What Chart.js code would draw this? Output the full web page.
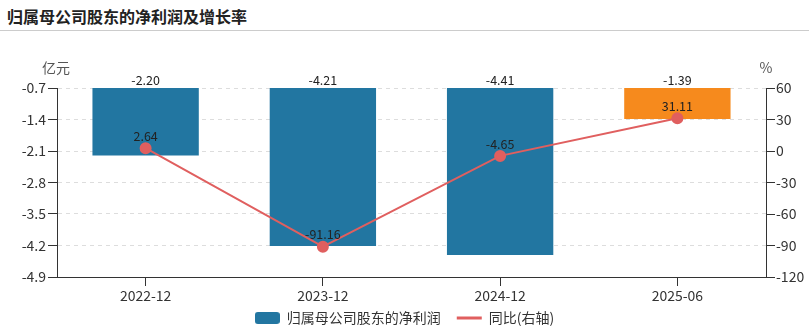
<!DOCTYPE html>
<html><head><meta charset="utf-8">
<script src="https://cdn.jsdelivr.net/npm/chart.js@4"></script>
<style>
html,body{margin:0;padding:0;background:#fff;}
#wrap{position:relative;width:809px;height:329px;overflow:hidden;}
#title{position:absolute;left:7px;top:5px;font:bold 16px "Noto Sans CJK SC",sans-serif;line-height:22px;color:#222;}
#sep{position:absolute;left:0;top:30px;width:809px;height:1px;background:#ccc;}
#cv{position:absolute;left:0;top:0;}
</style></head>
<body>
<div id="wrap">
<div id="title">归属母公司股东的净利润及增长率</div>
<div id="sep"></div>
<canvas id="cv" width="809" height="335" style="width:809px;height:335px"></canvas>
</div>
<script>
const categories = ['2022-12', '2023-12', '2024-12', '2025-06'];
const profitValues = [-2.20, -4.21, -4.41, -1.39];
const growthValues = [2.64, -91.16, -4.65, 31.11];
const leftTicks = [-0.7, -1.4, -2.1, -2.8, -3.5, -4.2, -4.9];
const rightTicks = [60, 30, 0, -30, -60, -90, -120];
const seriesNames = ['归属母公司股东的净利润', '同比(右轴)'];
const leftUnit = '亿元';
const rightUnit = '%';

const FONT = '"Noto Sans CJK SC", sans-serif';
const BLUE = '#2276a1';
const ORANGE = '#f68a1d';
const RED = '#e05f5f';

const legendBox = document.createElement('canvas');
legendBox.width = 25; legendBox.height = 12;
(function(){
  const c = legendBox.getContext('2d');
  c.fillStyle = BLUE;
  c.beginPath();
  if (c.roundRect) c.roundRect(0, 0, 25, 12, 3); else c.rect(0, 0, 25, 12);
  c.fill();
})();

const labelPlugin = {
  id: 'valueLabels',
  afterDatasetsDraw(chart) {
    const ctx = chart.ctx;
    const area = chart.chartArea;
    ctx.save();
    ctx.font = '12.5px ' + FONT;
    ctx.fillStyle = '#222';
    ctx.textAlign = 'center';
    ctx.textBaseline = 'middle';
    chart.getDatasetMeta(0).data.forEach((bar, i) => {
      const top = Math.max(area.top, Math.min(bar.y, bar.base));
      ctx.fillText(profitValues[i].toFixed(2), bar.x, top - 8);
    });
    chart.getDatasetMeta(1).data.forEach((pt, i) => {
      ctx.fillText(growthValues[i].toFixed(2), pt.x, pt.y - 12);
    });
    ctx.font = '14px ' + FONT;
    ctx.fillStyle = '#555';
    ctx.fillText(leftUnit, 56, 68);
    ctx.fillText(rightUnit, 766, 68);
    ctx.restore();
  }
};

new Chart(document.getElementById('cv'), {
  data: {
    labels: categories,
    datasets: [
      {
        type: 'bar',
        label: seriesNames[0],
        data: profitValues,
        yAxisID: 'y',
        backgroundColor: (c) => c.dataIndex === categories.length - 1 ? ORANGE : BLUE,
        borderWidth: 0,
        barPercentage: 0.6,
        categoryPercentage: 1,
        order: 2
      },
      {
        type: 'line',
        label: seriesNames[1],
        data: growthValues,
        yAxisID: 'y1',
        borderColor: RED,
        backgroundColor: RED,
        borderWidth: 2,
        pointRadius: 5,
        pointHoverRadius: 5,
        pointBackgroundColor: RED,
        pointBorderColor: RED,
        tension: 0,
        order: 1
      }
    ]
  },
  options: {
    responsive: false,
    animation: false,
    layout: { padding: { top: 88, left: 0, right: 0, bottom: 0 } },
    plugins: {
      tooltip: { enabled: false },
      title: { display: false },
      legend: {
        position: 'bottom',
        labels: {
          usePointStyle: true,
          pointStyleWidth: 25,
          boxHeight: 12,
          padding: 16,
          color: '#333',
          font: { size: 14, family: FONT },
          generateLabels(chart) {
            return [
              { text: seriesNames[0], pointStyle: legendBox, fillStyle: BLUE, strokeStyle: BLUE, lineWidth: 0, datasetIndex: 0, fontColor: '#333' },
              { text: seriesNames[1], pointStyle: 'line', fillStyle: RED, strokeStyle: RED, lineWidth: 3, datasetIndex: 1, fontColor: '#333' }
            ];
          }
        }
      }
    },
    scales: {
      x: {
        type: 'category',
        offset: true,
        grid: { drawOnChartArea: false, drawTicks: true, tickLength: 9, offset: false, color: '#333', tickColor: '#333' },
        border: { display: true, color: '#333', width: 1 },
        ticks: { color: '#333', font: { size: 14, family: FONT }, padding: 1, maxRotation: 0 },
        afterFit(s) { s.height = 18; s._computeLabelArea = () => undefined; }
      },
      y: {
        type: 'linear',
        position: 'left',
        min: -4.9,
        max: -0.7,
        afterBuildTicks(s) { s.ticks = leftTicks.map(v => ({ value: v })); },
        ticks: { color: '#333', font: { size: 14, family: FONT }, padding: 2, callback: (v) => Number(v).toFixed(1) },
        grid: { drawOnChartArea: true, color: '#dddddd', tickColor: '#333', tickLength: 9, tickBorderDash: [] },
        border: { display: true, color: '#333', width: 1, dash: [4, 4] },
        afterFit(s) { s.width = 57; }
      },
      y1: {
        type: 'linear',
        position: 'right',
        min: -120,
        max: 60,
        afterBuildTicks(s) { s.ticks = rightTicks.map(v => ({ value: v })); },
        ticks: { color: '#333', font: { size: 14, family: FONT }, padding: 1 },
        grid: { drawOnChartArea: false, color: '#333', tickColor: '#333', tickLength: 9 },
        border: { display: true, color: '#333', width: 1 },
        afterFit(s) { s.width = 43; }
      }
    }
  },
  plugins: [labelPlugin]
});
</script>
</body></html>
